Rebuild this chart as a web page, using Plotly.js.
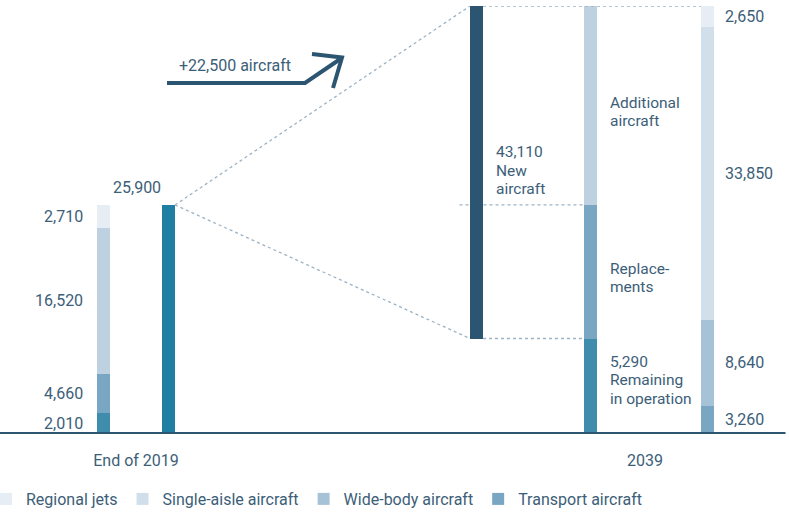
<!DOCTYPE html>
<html>
<head>
<meta charset="utf-8">
<script src="https://cdn.plot.ly/plotly-3.0.1.min.js"></script>
<style>html,body{margin:0;padding:0;background:#fff;}#chart{width:789px;height:515px;}</style>
</head>
<body>
<div id="chart"></div>
<script>
// ---- data ----
const fleetTypes = ["Transport aircraft", "Wide-body aircraft", "Single-aisle aircraft", "Regional jets"];
// values printed on the chart
const fleet2019 = [2010, 4660, 16520, 2710];
const fleet2039 = [3260, 8640, 33850, 2650];
const total2019 = 25900;
const newAircraft = 43110;
const additionalAircraft = 22500;
const remainingInOperation = 5290;
const periodLabels = ["End of 2019", "2039"];
// segment heights as drawn in the picture
const fleet2019Drawn = [2380, 4420, 16500, 2600];
const fleet2039Drawn = [3170, 9750, 33100, 2380];
const splitDrawn = [10800, 15100, 22500]; // remaining, replacements, additional

// ---- layout helpers (positions in px along x axis) ----
const W = 789, H = 515, T = 6, B = 81;
const plotH = H - T - B;
const yMax = fleet2039Drawn.reduce((a, b) => a + b, 0);
const X = {stack19: 103.5, total19: 168.5, newAc: 476.5, split: 590.5, stack39: 707.5};
const BW = 13;
const ink = '#3c5e78';
const dark = '#2b5570';
const font = {family: 'Roboto, "Open Sans", sans-serif', size: 16, color: ink};
const fontBlock = Object.assign({}, font, {size: 15.5});
const pxToY = p => (H - B - p) / plotH * yMax;
const pxToPaper = p => (H - B - p) / plotH;

const colors19 = ['#3f8cad', '#79a7c3', '#bdd1e0', '#e6edf4'];
const colors39 = ['#79a7c3', '#a6c2d6', '#d1dfea', '#e6edf4'];

const traces = [];
fleetTypes.forEach((name, i) => {
  traces.push({
    type: 'bar', name: name,
    x: [X.stack39, X.stack19], y: [fleet2039Drawn[i], fleet2019Drawn[i]],
    width: BW, marker: {color: [colors39[i], colors19[i]], line: {width: 0}},
    hoverinfo: 'skip'
  });
});
traces.push({type: 'bar', x: [X.total19], y: [total2019], base: 0, width: BW, showlegend: false,
  marker: {color: '#1f7fa3', line: {width: 0}}, hoverinfo: 'skip'});
const newBase = splitDrawn[0];
traces.push({type: 'bar', x: [X.newAc], y: [yMax - newBase], base: newBase, width: BW, showlegend: false,
  marker: {color: dark, line: {width: 0}}, hoverinfo: 'skip'});
const splitCols = ['#3f8cad', '#79a7c3', '#bdd1e0'];
let acc = 0;
splitDrawn.forEach((v, i) => {
  traces.push({type: 'bar', x: [X.split], y: [v], base: acc, width: BW, showlegend: false,
    marker: {color: splitCols[i], line: {width: 0}}, hoverinfo: 'skip'});
  acc += v;
});

// ---- annotations ----
const ann = [];
const fmt = v => v.toLocaleString('en-US');
function seglabels(vals, drawn, xpos, anchor) {
  let c = 0;
  vals.forEach((v, i) => {
    ann.push({x: xpos, y: c + drawn[i] / 2, xref: 'x', yref: 'y', text: fmt(v), showarrow: false,
      xanchor: anchor, yanchor: 'middle', font: font});
    c += drawn[i];
  });
}
seglabels(fleet2019, fleet2019Drawn, X.stack19 - 19, 'right');
seglabels(fleet2039, fleet2039Drawn, X.stack39 + 15, 'left');
ann.push({x: (X.stack19 + X.total19) / 2 + 1, y: pxToY(187), text: fmt(total2019), showarrow: false,
  xanchor: 'center', yanchor: 'middle', font: font});
const LS = 18.5;
function block(lines, xpos, centerPx) {
  const top = centerPx - (lines.length - 1) * LS / 2;
  lines.forEach((t, i) => ann.push({x: xpos, y: pxToY(top + i * LS), text: t, showarrow: false,
    xanchor: 'left', yanchor: 'middle', borderpad: 0, font: fontBlock}));
}
block([fmt(newAircraft), 'New', 'aircraft'], X.newAc + 18, 170.5);
block(['Additional', 'aircraft'], X.split + 18, 112);
block(['Replace-', 'ments'], X.split + 18, 278);
block([fmt(remainingInOperation), 'Remaining', 'in operation'], X.split + 18, 380);
ann.push({x: 177, y: pxToY(65), text: '+' + fmt(additionalAircraft) + ' aircraft', showarrow: false,
  xanchor: 'left', yanchor: 'middle', font: font});

// ---- shapes ----
const dot = {color: '#9db3c4', width: 1.3, dash: 'dot'};
const shapes = [
  {type: 'line', xref: 'x', yref: 'y', x0: X.total19 + BW / 2, y0: total2019, x1: X.newAc - BW / 2, y1: yMax, line: dot},
  {type: 'line', xref: 'x', yref: 'y', x0: X.total19 + BW / 2, y0: total2019, x1: X.newAc - BW / 2, y1: newBase, line: dot},
  {type: 'line', xref: 'x', yref: 'y', x0: X.newAc + BW / 2, y0: yMax, x1: X.stack39 - BW / 2, y1: yMax, line: dot},
  {type: 'line', xref: 'x', yref: 'y', x0: X.newAc - 17, y0: total2019, x1: X.split - BW / 2, y1: total2019, line: dot, layer: 'below'},
  {type: 'line', xref: 'x', yref: 'y', x0: X.newAc + BW / 2, y0: newBase, x1: X.split - BW / 2, y1: newBase, line: dot},
  {type: 'line', xref: 'x', yref: 'y', x0: 0, y0: 0, x1: 785.5, y1: 0, line: {color: dark, width: 4}},
  {type: 'path', xref: 'x', yref: 'paper',
    path: `M 167 ${pxToPaper(83)} L 305 ${pxToPaper(83)} L 341 ${pxToPaper(58.5)}`,
    line: {color: dark, width: 4}},
  {type: 'path', xref: 'x', yref: 'paper',
    path: `M 312 ${pxToPaper(54)} L 342 ${pxToPaper(57.5)} L 333 ${pxToPaper(88)}`,
    line: {color: dark, width: 4}}
];

const layout = {
  width: W, height: H,
  margin: {l: 0, r: 0, t: T, b: B, pad: 0, autoexpand: false},
  paper_bgcolor: '#fff', plot_bgcolor: '#fff',
  barmode: 'stack',
  showlegend: true,
  legend: {orientation: 'h', traceorder: 'reversed', x: -14 / W, xanchor: 'left', y: pxToPaper(499), yanchor: 'middle',
    font: font, bgcolor: 'rgba(0,0,0,0)', itemclick: false, itemdoubleclick: false},
  xaxis: {range: [0, W], showgrid: false, zeroline: false, showline: false, ticks: '',
    tickvals: [136, 645], ticktext: periodLabels, tickfont: font, ticklabelstandoff: 15, fixedrange: true},
  yaxis: {range: [0, yMax], showgrid: false, zeroline: false, showline: false, showticklabels: false, ticks: '', fixedrange: true},
  annotations: ann,
  shapes: shapes,
  font: font
};
Plotly.newPlot('chart', traces, layout, {staticPlot: true, displayModeBar: false});
</script>
</body>
</html>
